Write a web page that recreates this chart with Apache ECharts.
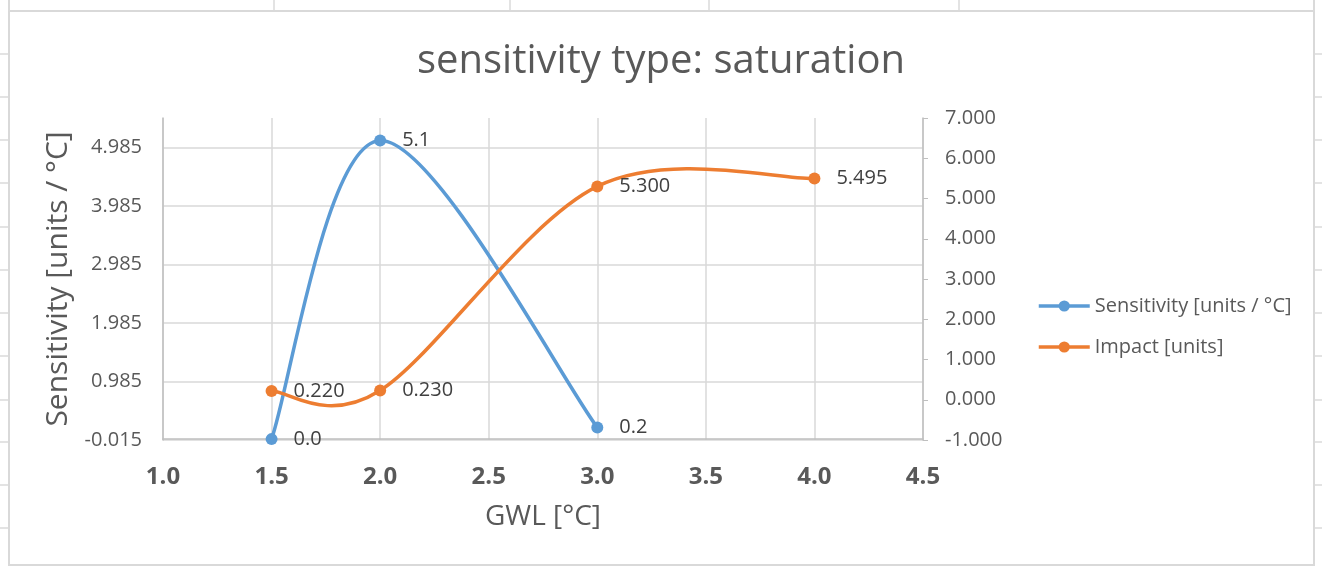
<!DOCTYPE html>
<html>
<head>
<meta charset="utf-8">
<title>sensitivity type: saturation</title>
<script src="https://cdn.jsdelivr.net/npm/echarts@6/dist/echarts.min.js"></script>
<style>
  html, body { margin: 0; padding: 0; background: #ffffff; }
  #chart { width: 1322px; height: 567px; }
</style>
</head>
<body>
<div id="chart"></div>
<script>
// Global warming levels and the two series plotted against them
const sensitivityGwl = [1.5, 2.0, 3.0];
const sensitivity = [0.0, 5.1, 0.2];          // units / °C
const impactGwl = [1.5, 2.0, 3.0, 4.0];
const impact = [0.220, 0.230, 5.300, 5.495];  // units

// Axis ranges and tick values
const gwlTicks = { min: 1.0, max: 4.5, step: 0.5 };
const sensitivityTicks = [-0.015, 0.985, 1.985, 2.985, 3.985, 4.985];
const sensitivityMax = 5.485;
const impactTicks = { min: -1, max: 7, step: 1 };

// Worksheet cell lines around the embedded chart
const sheetRows = [54, 97, 140, 183, 227, 270, 313, 356, 400, 442, 485, 528];
const sheetCols = [274, 510, 709, 959];

const TEXT = '#595959';
const LABEL = '#404040';
const BLUE = '#5B9BD5';
const ORANGE = '#ED7D31';
const FONT = '"Open Sans", "Noto Sans", sans-serif';
const LINE_WIDTH = 3.5;

const chart = echarts.init(document.getElementById('chart'), null, { renderer: 'canvas' });

const cellLine = '#dadada';
const graphics = [
  { type: 'rect', shape: { x: 9, y: 11, width: 1305, height: 554 },
    style: { fill: 'none', stroke: '#d9d9d9', lineWidth: 2 }, z: -10 },
  { type: 'line', shape: { x1: 9, y1: 0, x2: 9, y2: 11 }, style: { stroke: cellLine, lineWidth: 2 }, z: -10 },
  { type: 'line', shape: { x1: 1314, y1: 0, x2: 1314, y2: 11 }, style: { stroke: cellLine, lineWidth: 2 }, z: -10 }
];
sheetCols.forEach(x => graphics.push({
  type: 'line', shape: { x1: x, y1: 0, x2: x, y2: 10 }, style: { stroke: cellLine, lineWidth: 1.5 }, z: -10
}));
sheetRows.forEach(y => {
  graphics.push({ type: 'line', shape: { x1: 0, y1: y, x2: 8, y2: y }, style: { stroke: cellLine, lineWidth: 1.5 }, z: -10 });
  graphics.push({ type: 'line', shape: { x1: 1315, y1: y, x2: 1322, y2: y }, style: { stroke: cellLine, lineWidth: 1.5 }, z: -10 });
});

// Spreadsheet-style smoothed curve: cubic Bezier segments whose control
// points follow the neighbouring points (Catmull-Rom, tension 1/6), so the
// curve may swing past a point the way the spreadsheet's smoothing does.
function smoothCurve(name, xs, ys, color, yAxisIndex, z) {
  const last = xs.length - 1;
  const at = j => Math.min(Math.max(j, 0), last);
  return {
    name: name,
    type: 'custom',
    yAxisIndex: yAxisIndex,
    silent: true,
    clip: false,
    z: z,
    data: xs.map((x, i) => [x, ys[i]]),
    encode: { x: 0, y: 1 },
    renderItem: function (params, api) {
      const i = params.dataIndex;
      if (i >= last) return;
      const P = j => api.coord([xs[at(j)], ys[at(j)]]);
      const p0 = P(i - 1), p1 = P(i), p2 = P(i + 1), p3 = P(i + 2);
      return {
        type: 'bezierCurve',
        shape: {
          x1: p1[0], y1: p1[1], x2: p2[0], y2: p2[1],
          cpx1: p1[0] + (p2[0] - p0[0]) / 6, cpy1: p1[1] + (p2[1] - p0[1]) / 6,
          cpx2: p2[0] - (p3[0] - p1[0]) / 6, cpy2: p2[1] - (p3[1] - p1[1]) / 6
        },
        style: { fill: 'none', stroke: color, lineWidth: LINE_WIDTH, lineCap: 'round' }
      };
    }
  };
}

// Markers and value labels sit on a line series whose own path is hidden
function markers(name, xs, ys, color, yAxisIndex, digits, z) {
  return {
    name: name,
    type: 'line',
    yAxisIndex: yAxisIndex,
    data: xs.map((x, i) => [x, ys[i]]),
    symbol: 'circle',
    symbolSize: 12,
    lineStyle: { color: color, width: LINE_WIDTH, opacity: 0 },
    itemStyle: { color: color },
    label: {
      show: true, position: 'right', distance: 16,
      fontFamily: FONT, fontSize: 20, color: LABEL,
      formatter: p => p.value[1].toFixed(digits)
    },
    z: z
  };
}

const SENS = 'Sensitivity [units / °C]';
const IMP = 'Impact [units]';

const option = {
  backgroundColor: '#ffffff',
  animation: false,
  graphic: graphics,
  title: {
    text: 'sensitivity type: saturation',
    left: 'center',
    top: 37,
    textStyle: { fontFamily: FONT, fontSize: 40, fontWeight: 'normal', color: TEXT }
  },
  legend: {
    orient: 'vertical',
    left: 1032,
    top: 291,
    itemWidth: 51,
    itemHeight: 14,
    itemGap: 21,
    lineStyle: { opacity: 1, width: LINE_WIDTH },
    textStyle: { fontFamily: FONT, fontSize: 20, color: TEXT },
    data: [SENS, IMP]
  },
  grid: { left: 163, right: 399, top: 118, bottom: 127, containLabel: false },
  xAxis: {
    type: 'value',
    min: gwlTicks.min,
    max: gwlTicks.max,
    interval: gwlTicks.step,
    name: 'GWL [°C]',
    nameLocation: 'middle',
    nameGap: 63,
    nameTextStyle: { fontFamily: FONT, fontSize: 28, color: TEXT },
    axisLine: { show: true, lineStyle: { color: '#bfbfbf', width: 1.5 } },
    axisTick: { show: false },
    axisLabel: {
      margin: 25, fontFamily: FONT, fontSize: 24, fontWeight: 'bold', color: TEXT,
      formatter: v => v.toFixed(1)
    },
    splitLine: { show: true, lineStyle: { color: '#d9d9d9', width: 1.5 } }
  },
  yAxis: [
    {
      type: 'value',
      position: 'left',
      min: sensitivityTicks[0],
      max: sensitivityMax,
      name: SENS,
      nameLocation: 'middle',
      nameGap: 88,
      nameTextStyle: { fontFamily: FONT, fontSize: 30, color: TEXT },
      axisLine: { show: true, lineStyle: { color: '#bfbfbf', width: 1.5 } },
      axisTick: { show: false, customValues: sensitivityTicks },
      axisLabel: {
        customValues: sensitivityTicks,
        margin: 21, fontFamily: FONT, fontSize: 20, color: TEXT,
        formatter: v => v.toFixed(3)
      },
      splitLine: { show: true, lineStyle: { color: '#d9d9d9', width: 1.5 } }
    },
    {
      type: 'value',
      position: 'right',
      min: impactTicks.min,
      max: impactTicks.max,
      interval: impactTicks.step,
      axisLine: { show: true, lineStyle: { color: '#bfbfbf', width: 1.5 } },
      axisTick: { show: true, inside: false, length: 5, lineStyle: { color: '#bfbfbf' } },
      axisLabel: {
        margin: 22, fontFamily: FONT, fontSize: 20, color: TEXT,
        formatter: v => v.toFixed(3)
      },
      splitLine: { show: false }
    }
  ],
  series: [
    markers(SENS, sensitivityGwl, sensitivity, BLUE, 0, 1, 4),
    markers(IMP, impactGwl, impact, ORANGE, 1, 3, 5),
    smoothCurve(SENS, sensitivityGwl, sensitivity, BLUE, 0, 2),
    smoothCurve(IMP, impactGwl, impact, ORANGE, 1, 3)
  ]
};

chart.setOption(option);
</script>
</body>
</html>
